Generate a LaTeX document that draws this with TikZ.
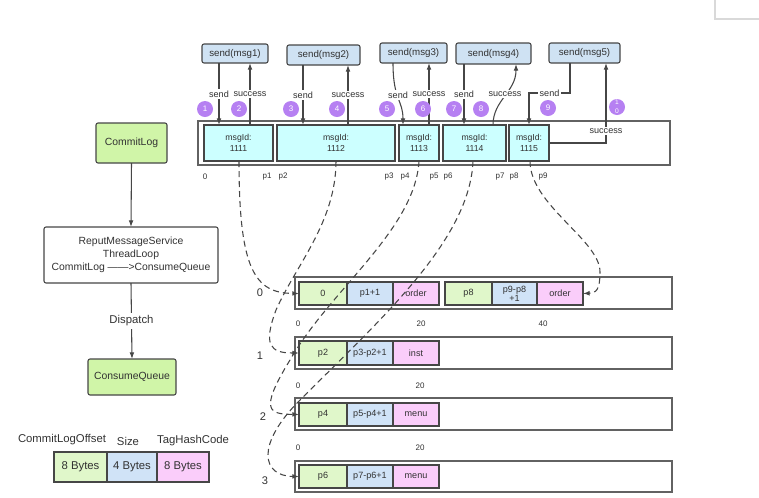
\documentclass[tikz,border=0pt]{standalone}
\usepackage{fontspec}
\setmainfont{Liberation Sans}
\usetikzlibrary{arrows.meta}
\definecolor{sendblue}{RGB}{207,226,243}
\definecolor{msgcyan}{RGB}{204,255,255}
\definecolor{lgreen}{RGB}{208,245,168}
\definecolor{cgreen}{RGB}{224,247,202}
\definecolor{cblue}{RGB}{208,227,247}
\definecolor{cpink}{RGB}{250,205,250}
\definecolor{cpurple}{RGB}{182,128,242}
\definecolor{edge}{RGB}{70,70,70}
\definecolor{txt}{RGB}{50,50,50}
\newcommand{\mkbox}[7]{%
  \pgfmathsetmacro{\bxcx}{(#3+#5)/2}%
  \pgfmathsetmacro{\bxcy}{(#4+#6)/2}%
  \pgfmathsetmacro{\bxw}{(#5-#3)*0.75}%
  \pgfmathsetmacro{\bxh}{(#6-#4)*0.75}%
  \node[#2, minimum width=\bxw pt, minimum height=\bxh pt] (#1) at (\bxcx,\bxcy) {#7};}
\begin{document}
\begin{tikzpicture}[x=0.75pt,y=-0.75pt,
  box/.style={draw=edge, line width=0.8pt, inner sep=0pt, outer sep=0pt, align=center, text=txt},
  sendbox/.style={box, fill=sendblue, rounded corners=1.5pt, font=\fontsize{7.3}{8.8}\selectfont},
  msgbox/.style={box, fill=msgcyan, font=\fontsize{6.5}{8.3}\selectfont},
  frame/.style={box, draw=edge!85, line width=1pt},
  gbox/.style={box, fill=lgreen, rounded corners=1.5pt, font=\fontsize{7.8}{9.4}\selectfont},
  wbox/.style={box, fill=white, rounded corners=1.5pt, font=\fontsize{7.8}{9.75}\selectfont},
  cellg/.style={box, fill=cgreen, font=\fontsize{6.8}{6.9}\selectfont},
  cellb/.style={box, fill=cblue, font=\fontsize{6.8}{6.9}\selectfont},
  cellp/.style={box, fill=cpink, font=\fontsize{6.8}{6.9}\selectfont},
  legg/.style={box, fill=cgreen, font=\fontsize{8.5}{10}\selectfont},
  legb/.style={box, fill=cblue, font=\fontsize{8.5}{10}\selectfont},
  legp/.style={box, fill=cpink, font=\fontsize{8.5}{10}\selectfont},
  lbl/.style={fill=white, inner sep=1pt, text=txt, font=\fontsize{6.8}{8}\selectfont},
  bigl/.style={text=txt, inner sep=0pt, font=\fontsize{8.5}{10}\selectfont},
  rowl/.style={text=txt, inner sep=0pt, font=\fontsize{8.3}{10}\selectfont},
  posl/.style={text=txt, inner sep=0pt, font=\fontsize{6}{7}\selectfont},
  circ/.style={circle, fill=cpurple, text=white, minimum size=12pt, inner sep=0pt, align=center, font=\fontsize{6}{6.5}\selectfont},
  arr/.style={draw=edge, line width=0.8pt, -{Latex[length=5pt,width=3.6pt]}},
  darr/.style={arr, dash pattern=on 4.5pt off 3pt}]
\useasboundingbox (0,0) rectangle (759,497);
% screenshot edge
\draw[black!15, line width=0.8pt] (715,0) -- (715,19) -- (759,19);

% ---- left column ----
\mkbox{cl}{gbox}{96}{123}{167}{163}{CommitLog}
\mkbox{rp}{wbox}{44}{227}{218}{283}{ReputMessageService\\ThreadLoop\\CommitLog ——>ConsumeQueue}
\mkbox{cq}{gbox}{88}{359}{176}{395}{ConsumeQueue}
\draw[arr] (cl.south) -- (rp.north);
\draw[arr] (rp.south) -- node[lbl, font=\fontsize{8.5}{10}\selectfont, inner sep=2pt] {Dispatch} (cq.north);

% ---- legend ----
\node[bigl] (lt0) at (62,440) {CommitLogOffset};
\node[bigl] (lt1) at (128,441) {Size};
\node[bigl] (lt2) at (193,441) {TagHashCode};
\mkbox{lg0}{legg}{54}{452}{107}{482}{8 Bytes}
\mkbox{lg1}{legb}{107}{452}{157}{482}{4 Bytes}
\mkbox{lg2}{legp}{157}{452}{209}{482}{8 Bytes}

% ---- send boxes ----
\mkbox{s1}{sendbox}{202}{44}{268}{63}{send(msg1)}
\mkbox{s2}{sendbox}{287}{45}{360}{65}{send(msg2)}
\mkbox{s3}{sendbox}{380}{43}{447}{63}{send(msg3)}
\mkbox{s4}{sendbox}{456}{43}{531}{64}{send(msg4)}
\mkbox{s5}{sendbox}{549}{43}{620}{63}{send(msg5)}

% ---- commit log frame ----
\mkbox{clf}{frame}{198}{121}{670}{165}{}
\mkbox{m1}{msgbox}{204}{125}{273}{161}{msgId:\\1111}
\mkbox{m2}{msgbox}{277}{125}{395}{161}{msgId:\\1112}
\mkbox{m3}{msgbox}{399}{125}{439}{161}{msgId:\\1113}
\mkbox{m4}{msgbox}{443}{125}{506}{161}{msgId:\\1114}
\mkbox{m5}{msgbox}{509}{125}{549}{161}{msgId:\\1115}

% position labels
\node[posl] (q0) at (205,177) {0};
\node[posl] (q1) at (267,177) {p1};
\node[posl] (q2) at (283,177) {p2};
\node[posl] (q3) at (389,177) {p3};
\node[posl] (q4) at (405,177) {p4};
\node[posl] (q5) at (434,177) {p5};
\node[posl] (q6) at (448,177) {p6};
\node[posl] (q7) at (500,177) {p7};
\node[posl] (q8) at (514,177) {p8};
\node[posl] (q9) at (543,177) {p9};

% ---- send / success arrows ----
\draw[arr] (219,0 |- s1.south) -- node[lbl] {send} (219,0 |- m1.north);
\draw[arr] (250,0 |- m1.north) -- node[lbl] {success} (250,0 |- s1.south);
\draw[arr] (303,0 |- s2.south) -- node[lbl] {send} (303,0 |- m2.north);
\draw[arr] (348,0 |- m2.north) -- node[lbl] {success} (348,0 |- s2.south);
\draw[arr] (393,0 |- s3.south) .. controls (393,100) and (403,100) .. (403,0 |- m3.north);
\node[lbl] (ls3) at (398,95) {send};
\draw[arr] (429,0 |- m3.north) -- node[lbl] {success} (429,0 |- s3.south);
\draw[arr] (464,0 |- s4.south) -- node[lbl] {send} (464,0 |- m4.north);
\draw[arr] (493,0 |- m4.north) .. controls (493,100) and (516,92) .. (516,0 |- s4.south);
\node[lbl] (ls4) at (505,94) {success};
\draw[arr] (570,0 |- s5.south) -- (570,93) -- node[lbl] {send} (529,93) -- (529,0 |- m5.north);
\draw[arr] (m5.east) -- (606,0 |- m5.east) -- node[lbl, pos=0.15] {success} (606,0 |- s5.south);

% ---- numbered circles ----
\node[circ] (n1) at (205,109) {1};
\node[circ] (n2) at (239,109) {2};
\node[circ] (n3) at (291,109) {3};
\node[circ] (n4) at (337,109) {4};
\node[circ] (n5) at (387,109) {5};
\node[circ] (n6) at (423,109) {6};
\node[circ] (n7) at (454,109) {7};
\node[circ] (n8) at (481,109) {8};
\node[circ] (n9) at (548,108) {9};
\node[circ, font=\fontsize{5}{6.5}\selectfont] (n10) at (617,107) {1\\0};

% ---- consume queue rows ----
\mkbox{r0}{frame}{295}{277}{672}{309}{}
\mkbox{r1}{frame}{295}{337}{672}{369}{}
\mkbox{r2}{frame}{295}{398}{672}{430}{}
\mkbox{r3}{frame}{295}{461}{672}{492}{}

\mkbox{c00}{cellg}{299}{282}{347}{305}{0}
\mkbox{c01}{cellb}{347}{282}{393}{305}{p1+1}
\mkbox{c02}{cellp}{393}{282}{439}{305}{order}
\mkbox{c03}{cellg}{445}{282}{492}{305}{p8}
\mkbox{c04}{cellb}{492}{282}{537}{305}{p9-p8\\+1}
\mkbox{c05}{cellp}{537}{282}{583}{305}{order}

\mkbox{c10}{cellg}{299}{341}{347}{365}{p2}
\mkbox{c11}{cellb}{347}{341}{393}{365}{p3-p2+1}
\mkbox{c12}{cellp}{393}{341}{439}{365}{inst}

\mkbox{c20}{cellg}{299}{403}{347}{426}{p4}
\mkbox{c21}{cellb}{347}{403}{393}{426}{p5-p4+1}
\mkbox{c22}{cellp}{393}{403}{439}{426}{menu}

\mkbox{c30}{cellg}{299}{465}{347}{488}{p6}
\mkbox{c31}{cellb}{347}{465}{393}{488}{p7-p6+1}
\mkbox{c32}{cellp}{393}{465}{439}{488}{menu}

% row numbers
\node[rowl] (rl0) at (260,293) {0};
\node[rowl] (rl1) at (260,356) {1};
\node[rowl] (rl2) at (263,417) {2};
\node[rowl] (rl3) at (265,481) {3};

% offsets under rows
\node[posl] (o00) at (298,324) {0};
\node[posl] (o01) at (421,324) {20};
\node[posl] (o02) at (543,324) {40};
\node[posl] (o10) at (298,386) {0};
\node[posl] (o11) at (420,386) {20};
\node[posl] (o20) at (298,448) {0};
\node[posl] (o21) at (420,448) {20};

% ---- dashed index arrows ----
\draw[darr] (239,0 |- m1.south) .. controls (239,270) and (255,293) .. (c00.west);
\draw[darr] (336,0 |- m2.south) .. controls (336,222) and (296,265) .. (276,310)
  .. controls (263,345) and (270,353) .. (c10.west);
\draw[darr] (419,0 |- m3.south) .. controls (415,230) and (330,290) .. (290,360)
  .. controls (258,412) and (270,414) .. (c20.west);
\draw[darr] (473,0 |- m4.south) .. controls (470,240) and (380,320) .. (300,400)
  .. controls (255,445) and (262,476) .. (c30.west);
\draw[darr] (530,0 |- m5.south) .. controls (530,205) and (600,240) .. (600,272)
  .. controls (600,290) and (596,293) .. (c05.east);
\end{tikzpicture}
\end{document}
